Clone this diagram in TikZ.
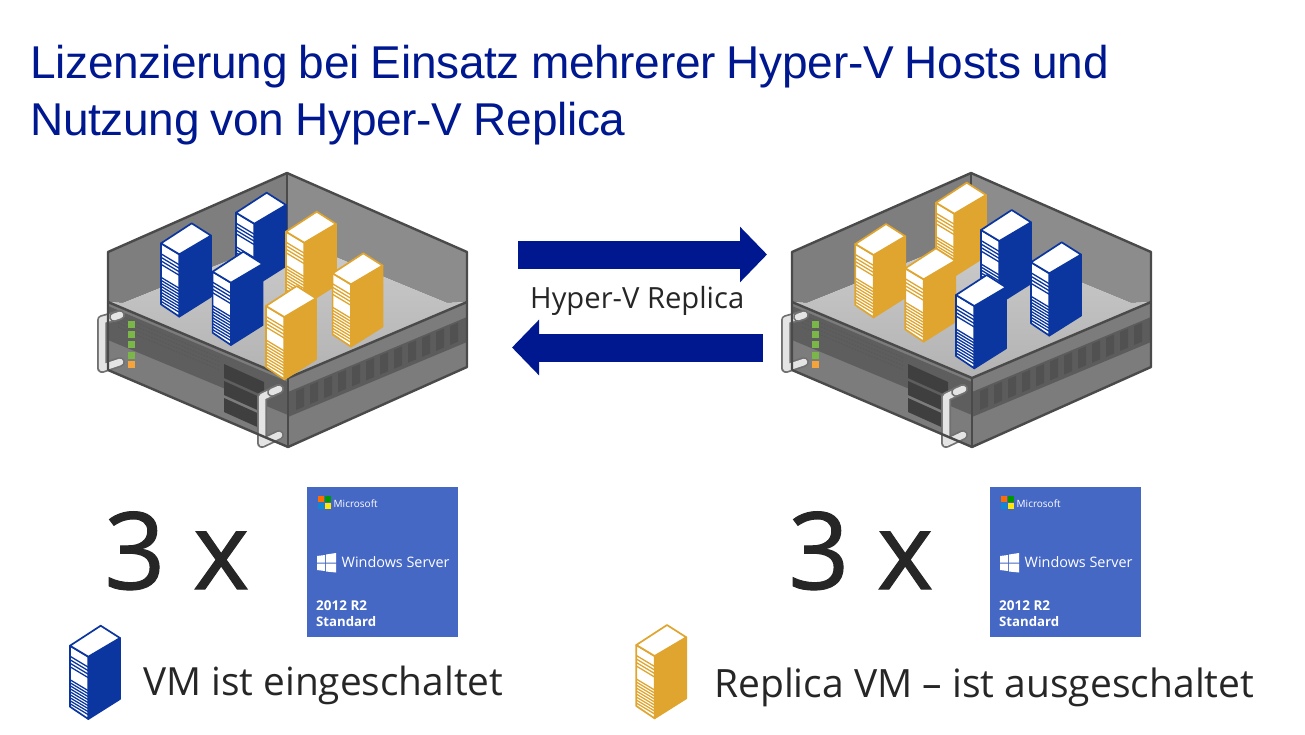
\documentclass[tikz,border=0pt]{standalone}
\usepackage{fontspec}
\setmainfont{Open Sans}
\newfontfamily\titlefont[LetterSpace=-0.65,WordSpace=0.9]{Liberation Sans}
\newfontfamily\countfont[FakeBold=1.0]{Open Sans}
\usetikzlibrary{arrows.meta}
\definecolor{titleblue}{HTML}{00188F}
\definecolor{vmblue}{HTML}{0B36A0}
\definecolor{vmyellow}{HTML}{E0A52E}
\definecolor{boxblue}{HTML}{4668C5}
\definecolor{rimgray}{HTML}{4A4A4A}
\definecolor{wallleft}{HTML}{7E7E7E}
\definecolor{wallright}{HTML}{8C8C8C}
\definecolor{facegray}{HTML}{7C7C7C}
\definecolor{bandleft}{HTML}{5E5E5E}
\definecolor{bandright}{HTML}{5C5C5C}
\definecolor{grillgray}{HTML}{515151}
\definecolor{baygray}{HTML}{3F3F3F}
\definecolor{ledgreen}{HTML}{7AB648}
\definecolor{ledorange}{HTML}{F5A33C}
\definecolor{handleedge}{HTML}{707070}
\definecolor{handlefill}{HTML}{E4E4E4}
\definecolor{inktext}{HTML}{262626}
\tikzset{
  titletext/.style={anchor=base west,inner sep=0pt,text=titleblue},
  bigtext/.style={anchor=base west,inner sep=0pt,text=inktext},
  boxtext/.style={anchor=base west,inner sep=0pt,text=white},
  replicaarrow/.style={draw=titleblue,line width=28pt,-{Triangle[length=27pt,width=54pt]}},
}
% tower with its top corner at (#1,#2)
\newcommand{\vmtower}[3]{
  \begin{scope}[shift={(#1,#2)},draw=#3,line width=1.7pt,line join=round]
    \filldraw[fill=#3] (-12.4,31) -- (19.3,12.3) -- (19.3,73.3) -- (-12.4,93.3) -- cycle;
    \filldraw[fill=white] (-30.7,20) -- (-12.4,31) -- (-12.4,93.3) -- (-30.7,81) -- cycle;
    \filldraw[fill=white] (0,0) -- (19.3,12.3) -- (-12.4,31) -- (-30.7,20) -- cycle;
    \foreach \t in {10.5,14,17.5,21,34,37,40,43,46,49,52,55,58}{
      \draw[line width=1.3pt] (-30.7,20+\t) -- (-12.4,31+\t);
    }
  \end{scope}
}
% rack with the walls, the floor and the two front faces
\newcommand{\rackserver}[1]{
  \begin{scope}[shift={(#1,0)},line join=round]
    \fill[wallleft] (108,252) -- (287,173) -- (287,237) -- (123,303) -- (108,302) -- cycle;
    \fill[wallright] (287,173) -- (467,252) -- (467,302) -- (447,303) -- (287,237) -- cycle;
    \shade[top color=gray!40,bottom color=gray!60] (108,302) -- (123,303) -- (287,237) -- (447,303) -- (467,302) -- (288,378) -- cycle;
    \fill[facegray] (108,302) -- (288,378) -- (288,447) -- (108,370) -- cycle;
    \fill[bandleft] (108,306) -- (288,382) -- (288,415) -- (108,340) -- cycle;
    \fill[facegray] (288,378) -- (467,302) -- (467,367) -- (288,447) -- cycle;
    \fill[bandright] (288,392) -- (467,317) -- (467,342) -- (288,417) -- cycle;
    \foreach \s in {0,...,11}{
      \fill[grillgray] (296+14*\s,391-5.9*\s) -- ++(8,-3.4) -- ++(0,19) -- ++(-8,3.4) -- cycle;
    }
    \foreach \t in {0,4,8,12}{
      \draw[black!65,line width=1pt,dash pattern=on 1.5pt off 1.5pt] (118,315+\t) -- (220,358+\t);
    }
    % drive bays
    \foreach \t in {0,17,34}{
      \fill[baygray] (224,364+\t) -- (264,382+\t) -- (264,396+\t) -- (224,378+\t) -- cycle;
    }
    % leds
    \foreach \y in {321,331,341,352}{
      \fill[ledgreen] (128,\y) rectangle ++(6.5,6.5);
    }
    \fill[ledorange] (128,361) rectangle ++(6.5,6.5);
    % handles
    \foreach \w/\c in {10pt/handleedge,6.5pt/handlefill}{
      \draw[\c,line width=\w,line cap=round,line join=round] (120,315) -- (102,320) -- (102,368) -- (120,362);
      \draw[\c,line width=\w,line cap=round,line join=round] (279,389) -- (262,397) -- (262,443) -- (279,435);
    }
    % outline of the rack
    \draw[rimgray,line width=2.4pt] (108,370) -- (108,252) -- (287,173) -- (467,252) -- (467,367) -- (288,447) -- (108,370);
    \draw[rimgray,line width=2.4pt] (287,173) -- (287,237);
    \draw[rimgray,line width=2.4pt] (108,302) -- (288,378) -- (467,302);
    \draw[rimgray,line width=2.4pt] (288,378) -- (288,447);
    % handle ends lie over the outline
    \draw[handleedge,line width=10pt,line cap=round] (114,317) -- (120,315);
    \draw[handlefill,line width=6.5pt,line cap=round] (114,317) -- (120,315);
    \draw[handleedge,line width=10pt,line cap=round] (272,392) -- (279,389);
    \draw[handlefill,line width=6.5pt,line cap=round] (272,392) -- (279,389);
  \end{scope}
}
% product box at (#1,487)
\newcommand{\winbox}[2]{
  \begin{scope}[shift={(#1,487)}]
    \fill[boxblue] (0,0) rectangle (151,150);
    \fill[orange!85!red] (11,9) rectangle ++(6,6);
    \fill[green!60!black] (18,9) rectangle ++(6,6);
    \fill[cyan!70!blue] (11,16) rectangle ++(6,6);
    \fill[yellow!90!orange] (18,16) rectangle ++(6,6);
    \fill[white] (10,69) -- (18,68) -- (18,75.5) -- (10,75.5) -- cycle;
    \fill[white] (19,67.5) -- (29,66) -- (29,75.5) -- (19,75.5) -- cycle;
    \fill[white] (10,76.5) -- (18,76.5) -- (18,84) -- (10,83) -- cycle;
    \fill[white] (19,76.5) -- (29,76.5) -- (29,85.5) -- (19,84.5) -- cycle;
    \node[boxtext,font=\fontsize{10}{10}\selectfont] (#2ms) at (26.5,20) {Microsoft};
    \node[boxtext,font=\fontsize{14.4}{14.4}\selectfont] (#2ws) at (34.5,80) {Windows Server};
    \node[boxtext,font=\fontsize{13.5}{13.5}\selectfont\bfseries] (#2yr) at (9,123) {2012 R2};
    \node[boxtext,font=\fontsize{13.2}{13.2}\selectfont\bfseries] (#2ed) at (9,139.5) {Standard};
  \end{scope}
}
\begin{document}
\begin{tikzpicture}[x=1pt,y=-1pt]
  \useasboundingbox (0,0) rectangle (1305,734);
  \node[titletext,font=\titlefont\fontsize{46}{46}\selectfont] (titleone) at (30,78) {Lizenzierung bei Einsatz mehrerer Hyper-V Hosts und};
  \node[titletext,font=\titlefont\fontsize{46}{46}\selectfont] (titletwo) at (30,135) {Nutzung von Hyper-V Replica};

  \rackserver{0}
  \vmtower{266.7}{192.7}{vmblue}
  \vmtower{191.7}{223.3}{vmblue}
  \vmtower{243.3}{251.7}{vmblue}
  \vmtower{316.7}{211.7}{vmyellow}
  \vmtower{363.3}{253.3}{vmyellow}
  \vmtower{296.7}{286}{vmyellow}

  \rackserver{684}
  \vmtower{966.7}{182.7}{vmyellow}
  \vmtower{886}{224}{vmyellow}
  \vmtower{936}{248.3}{vmyellow}
  \vmtower{1011.7}{210}{vmblue}
  \vmtower{1061.7}{242.3}{vmblue}
  \vmtower{986.7}{275}{vmblue}

  \coordinate (hostleft) at (518,254.5);
  \coordinate (hostright) at (767,254.5);
  \coordinate (backright) at (763,347.5);
  \coordinate (backleft) at (512,347.5);
  \draw[replicaarrow] (hostleft) -- (hostright);
  \draw[replicaarrow] (backright) -- (backleft);
  \node[bigtext,font=\fontsize{29.2}{29.2}\selectfont] (replicalabel) at (530,308) {Hyper-V Replica};

  \node[bigtext,font=\countfont\fontsize{107}{107}\selectfont] (countleft) at (104,589) {3 x};
  \node[bigtext,font=\countfont\fontsize{107}{107}\selectfont] (countright) at (788,589) {3 x};
  \winbox{307}{boxleft}
  \winbox{990}{boxright}

  \vmtower{100.7}{625.7}{vmblue}
  \node[bigtext,font=\fontsize{38.8}{38.8}\selectfont] (legendon) at (143,695) {VM ist eingeschaltet};
  \vmtower{667}{625}{vmyellow}
  \node[bigtext,font=\fontsize{39}{39}\selectfont] (legendoff) at (714,697) {Replica VM -- ist ausgeschaltet};
\end{tikzpicture}
\end{document}
